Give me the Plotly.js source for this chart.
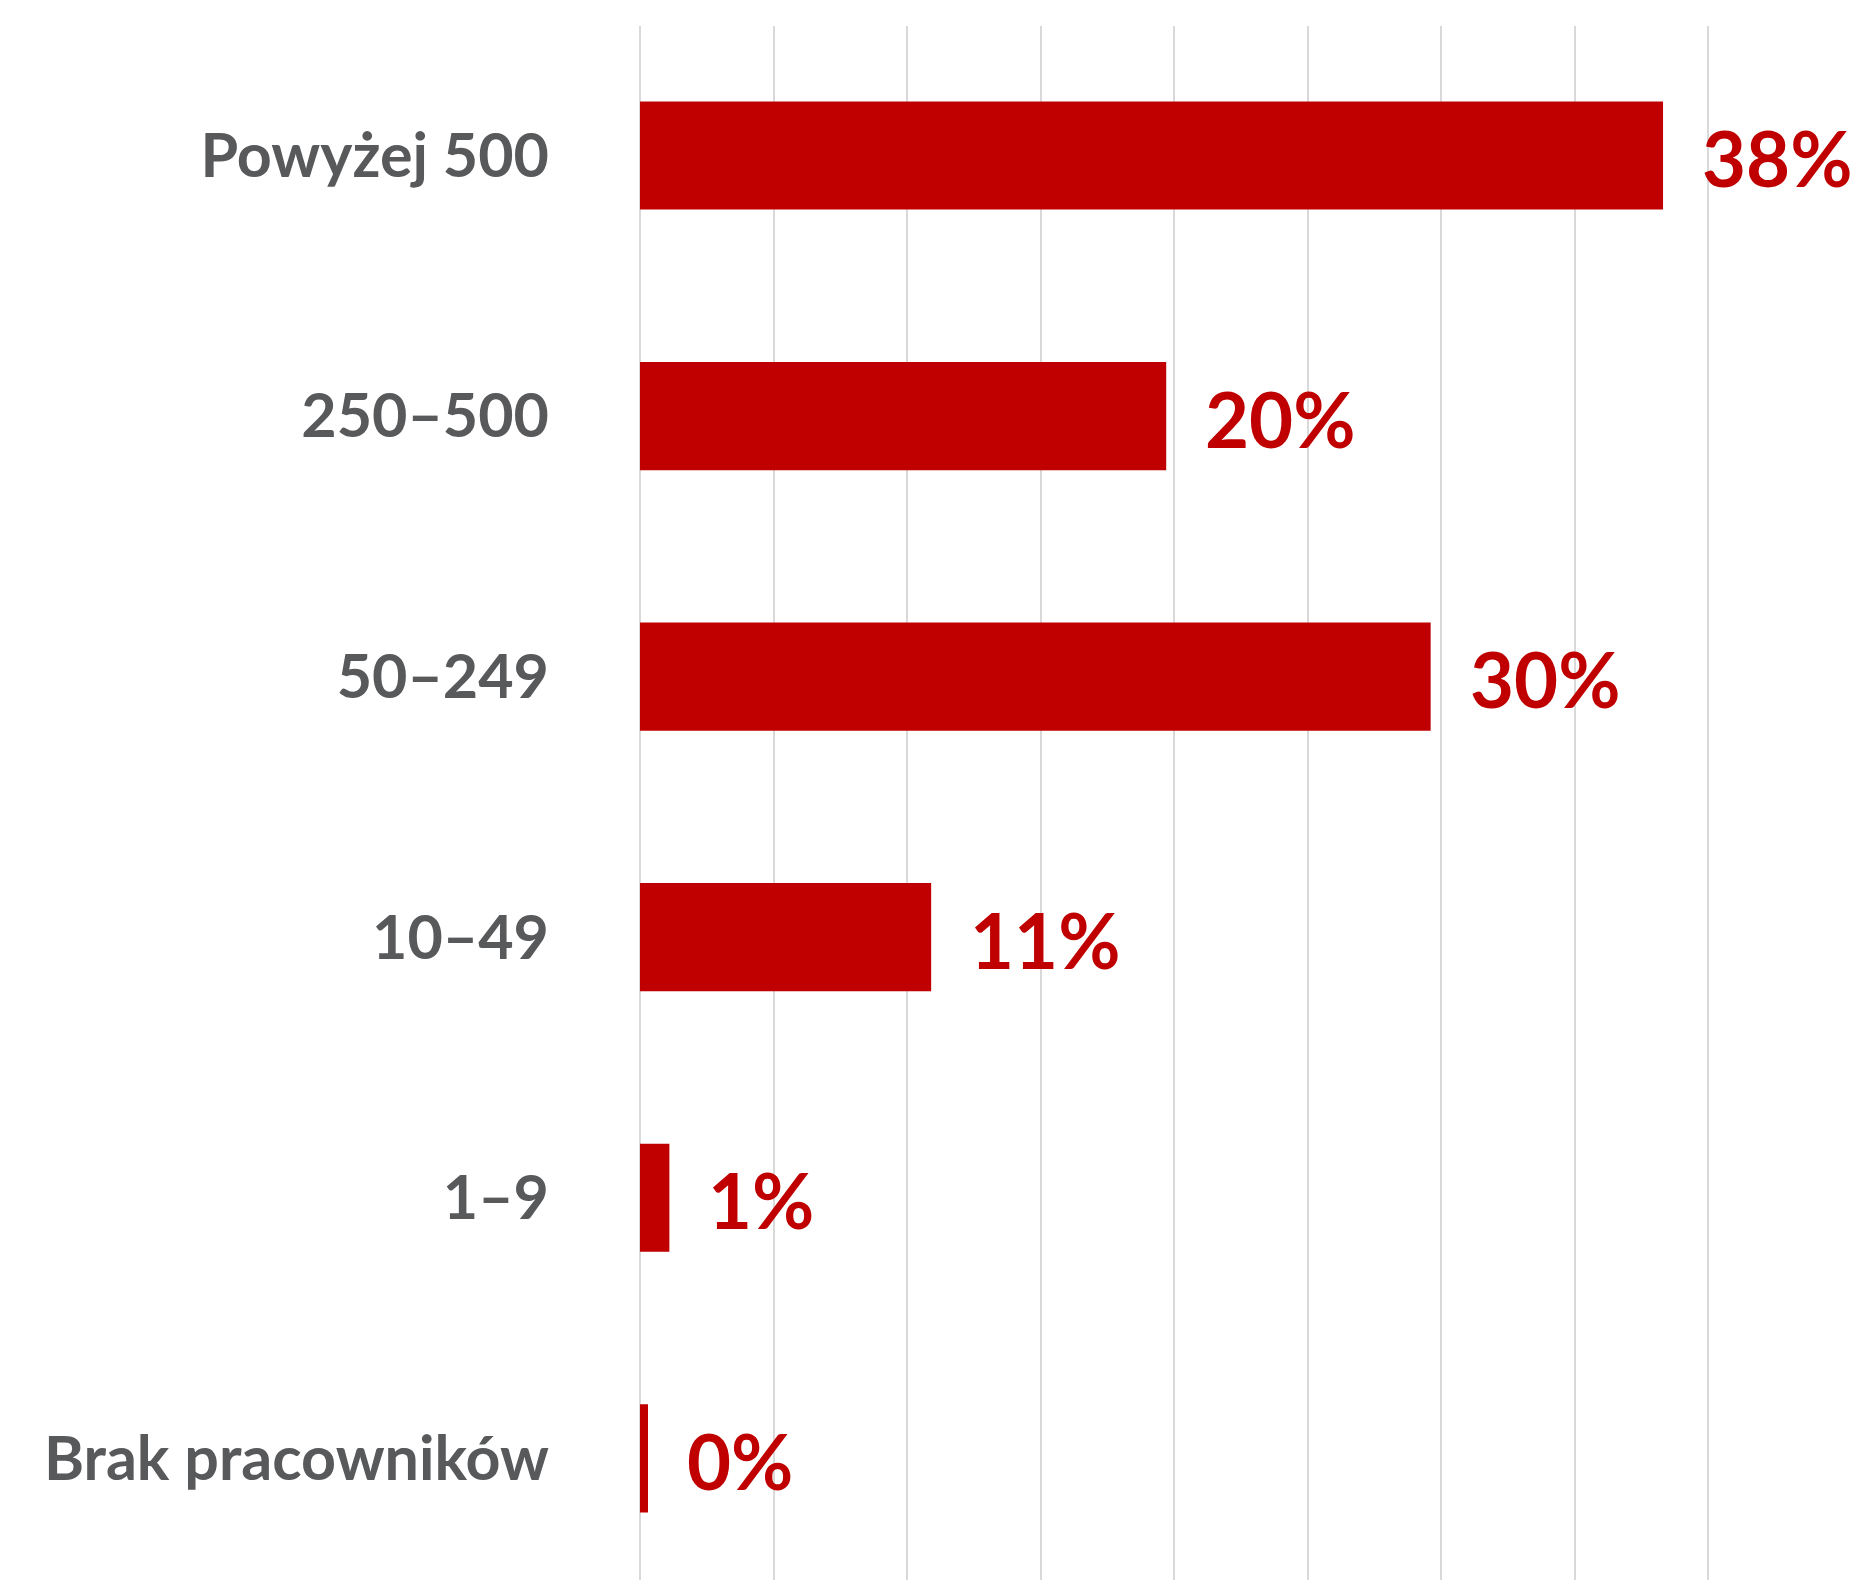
<!DOCTYPE html>
<html>
<head>
<meta charset="utf-8">
<script src="https://cdn.plot.ly/plotly-3.0.1.min.js"></script>
<style>html,body{margin:0;padding:0;background:#fff;}</style>
</head>
<body>
<div id="chart" style="width:1866px;height:1580px;"></div>
<script>
const categories = ["Powyżej 500", "250–500", "50–249", "10–49", "1–9", "Brak pracowników"];
const values = [38.3, 19.7, 29.6, 10.9, 1.1, 0.3];
const labels = ["38%", "20%", "30%", "11%", "1%", "0%"];

const barColor = "#c00000";
const trace = {
  type: "bar",
  orientation: "h",
  x: values,
  y: categories,
  marker: {color: barColor},
  hoverinfo: "none"
};

const annotations = values.map((v, i) => ({
  x: v, y: categories[i], xref: "x", yref: "y",
  text: labels[i], showarrow: false, xanchor: "left", yanchor: "middle",
  xshift: 37, yshift: -2,
  font: {family: "Lato, 'Open Sans', sans-serif", size: 76, weight: "bold", color: barColor}
}));

const layout = {
  width: 1866, height: 1580,
  margin: {l: 640, r: 24, t: 26, b: 0, pad: 0},
  paper_bgcolor: "#ffffff", plot_bgcolor: "#ffffff",
  showlegend: false,
  bargap: 0.585,
  xaxis: {
    range: [0, 45], dtick: 5, tick0: 0,
    showticklabels: false, ticks: "",
    showgrid: true, gridcolor: "#d9d9d9", gridwidth: 2,
    zeroline: true, zerolinecolor: "#d9d9d9", zerolinewidth: 2,
    showline: false, fixedrange: true
  },
  yaxis: {
    type: "category",
    categoryorder: "array", categoryarray: categories,
    range: [5.467, -0.497],
    showgrid: false, zeroline: false, showline: false,
    ticks: "", ticklabelstandoff: 90,
    tickfont: {family: "Lato, 'Open Sans', sans-serif", size: 61, weight: "bold", color: "#58595b"},
    fixedrange: true
  },
  annotations: annotations
};

Plotly.newPlot("chart", [trace], layout, {displayModeBar: false, staticPlot: true});
</script>
</body>
</html>
